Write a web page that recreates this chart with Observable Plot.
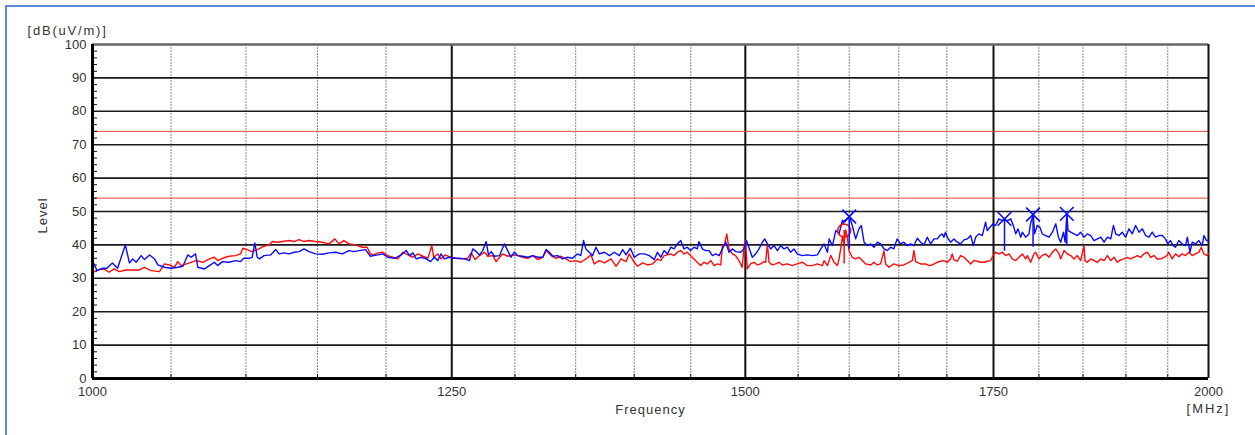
<!DOCTYPE html>
<html><head><meta charset="utf-8">
<script src="https://cdn.jsdelivr.net/npm/d3@7"></script>
<script src="https://cdn.jsdelivr.net/npm/@observablehq/plot@0.6"></script>
<style>
html,body{margin:0;padding:0;background:#fff;overflow:hidden;width:1255px;height:435px}
#chart{position:absolute;left:0;top:0}
#frame{position:absolute;left:5px;top:5px;width:1400px;height:600px;border:2px solid #5b8bd4;box-sizing:border-box;pointer-events:none}
</style></head><body><div id="chart"></div><div id="frame"></div>
<script>
// ---- data ----
const xDomain = [1000, 2000];
const yDomain = [0, 100];
const xTickLabels = [1000, 1250, 1500, 1750, 2000];
const majorFreq = [1250, 1500, 1750];
const minorFreq = [1050, 1100, 1150, 1200, 1300, 1350, 1400, 1450, 1550, 1600, 1650, 1700, 1800, 1850, 1900, 1950];
const yTickLabels = [0, 10, 20, 30, 40, 50, 60, 70, 80, 90, 100];
const yGrid = [10, 20, 30, 40, 50, 60, 70, 80, 90];
const yMinor = [2,4,6,8,12,14,16,18,22,24,26,28,32,34,36,38,42,44,46,48,52,54,56,58,62,64,66,68,72,74,76,78,82,84,86,88,92,94,96,98];
const limitLines = [74, 54];

const blueFreq = [1000,1002.8,1006,1009,1012.4,1015.7,1020.6,1023.2,1025.3,1027.5,1030.7,1032.8,1036.1,1039.3,1041.4,1045.7,1050,1054.4,1057.7,1061,1063.2,1066.1,1067.6,1072,1075.3,1078.6,1080.8,1084.1,1088.5,1092.9,1096.3,1098.5,1101.9,1104.2,1106.1,1107.7,1109.3,1112.4,1117,1120.6,1122.9,1126.4,1129.9,1133.4,1136.9,1140.4,1143.9,1148.6,1153.4,1158.2,1163,1167.9,1172.7,1176.3,1179.9,1184.8,1188.4,1190.8,
1193.9,1197.6,1201.3,1206.3,1211.4,1215.2,1217.7,1220.2,1222.7,1226.5,1230.3,1233.6,1236.6,1239.1,1241.7,1244.2,1248,1251.9,1255.8,1259.8,1263.8,1266.4,1269.1,1271.7,1274.3,1277,1278.8,1281,1283.6,1287.6,1291.5,1294.2,1296.8,1299.5,1302.2,1306.3,1310.4,1314.5,1318.6,1322.7,1325.4,1328.1,1330.9,1335,1339.1,1343.2,1347.3,1351.4,1354.3,1356.6,1358.6,1361.4,1364.3,1367.1,1370,1374.3,1378.6,1382.9,1387.1,1390,1392.9,1396.6,1400,1404.4,1408.8,1413.2,1417.6,
1420.3,1423.3,1426.2,1429.2,1432.1,1435.1,1438,1441,1443.9,1446.9,1449.8,1452.9,1455.9,1457.4,1460.5,1463.6,1466.6,1469.7,1472.7,1475.8,1478.8,1481.9,1484.9,1488,1491,1495.6,1498.7,1501.1,1503.3,1506.5,1509.7,1512.8,1516,1518.2,1520.7,1523.9,1527,1530.2,1533.3,1536.5,1539.7,1542.8,1546,1549.1,1554,1558.9,1563.8,1568.7,1572,1575.2,1578.5,1580.1,1583.4,1586.7,1589.9,1593.2,1595.8,1598,1600.5,1603,1606.4,1609.7,1612.1,1614.8,1618.1,1621.5,1624.8,1628.2,1631.5,1634.9,1638.3,1641.6,1645,1648.3,1651.7,1655.2,1658.7,1662.2,1665.6,1669.1,1672.6,1676,1679.5,1683,1686.5,
1689.9,1692.7,1695.1,1696.9,1698.6,1700.4,1703.9,1707.5,1711.1,1714.6,1718.2,1721.8,1725.3,1728.2,1730.7,1734.3,1737.9,1741.4,1743.2,1746.1,1749.6,1752.2,1755.9,1759.6,1762.1,1765.1,1768.8,1771.7,1774.3,1776.9,1779.8,1781.6,1785.3,1789,1790.8,1793.8,1795.2,1798.2,1801.1,1803.8,1807.6,1811.4,1815.2,1819,1822,1824.6,1827.7,1829.6,1831.5,1833,1836,1839.8,1843.6,1847.3,1851.2,1855,1858.9,1862.8,1866.7,1870.6,1874.4,1878.3,1882.2,1885.3,1888,1891.9,1895.7,1899.6,1903.6,1907.5,1911.5,1915.5,1919.5,1923.4,1927.4,1931.3,1935.3,1939.3,1943.3,1947.2,1950,1953.3,1956.6,1959.4,1963.5,1967.6,1971.7,1973.8,1977.1,1979.9,1984,1988.1,1992.2,1994.3,1997.5,2000];
const blueLevel = [35.3,32.3,33,33,34.6,33,40,34.6,35.8,34.8,36.8,35.6,37,35.8,34,33.3,33,33.3,33.6,37,36.3,37.3,33.3,32.8,33.8,34.8,33.8,35,34.8,35.3,35,36,36,36.2,40.6,36.3,35.8,36.8,37,38.6,37.3,37.6,37.3,37.8,38,38.8,38,37.3,37.2,37.6,37.8,37.3,38.3,38,38.3,38.6,36.6,36.8,
37,37.3,36.3,36,37,38.3,36.8,37.6,35.8,36.3,35.8,35,36.3,35.3,37.3,35.8,36.3,36,36,35.8,35.3,38.8,38,37,38.3,41,37,38,36.6,36.8,40.3,38.3,36.3,37.8,36.8,36.6,36.3,36.8,36.3,36.3,38.6,37.8,36.6,36.8,35.8,36.3,36,37.3,36.8,41.3,38.8,37.8,36.8,39.3,37.3,37.8,36.8,37.8,36.8,38.6,37,39,36.3,37.3,37.3,36.8,35.6,
37.8,36.3,38.3,37.3,39.3,38.8,40.3,41.3,38.8,39.3,38.3,39.3,38.8,41,38.8,38.3,38.3,36.8,37.3,36.8,38.8,40.8,37.8,38.8,38,37.8,38.8,41.3,39.3,36.3,37.3,38.8,40.8,41.8,40.3,38.8,39.8,38.3,39.8,38.8,39.3,37.8,38.8,37.3,36.8,37,36.8,37,38.8,40.3,37.8,41.8,39.8,44.3,43.3,47.3,47,47.8,48.3,45.8,41.8,44.8,45.8,40.8,39.8,40.3,39.3,40.8,40.3,38.8,38.3,39.3,38.8,41.8,40.3,40.8,39.8,40.3,39.8,42,40.8,40,42.3,40.3,41.8,
41.8,42.8,43.3,42.3,43.8,42.3,40.8,41.8,40.8,40.3,41.5,41.8,42.8,39.8,42.3,43.3,42.8,46.8,44.3,45.3,46.3,45.8,47.8,47.3,47.8,47.1,47.8,45.8,43.3,44.8,42.3,43.8,42.3,43.3,46.5,49.1,43.3,45.8,45.3,43.3,42.8,42.3,43.8,46.3,42.3,40.8,43.8,40.8,49.3,44.3,43.8,43.3,42.8,43.8,42.3,43.3,42.8,41.3,41.8,42.3,40.8,42.3,41.8,45.8,43.3,42.8,43.8,42.3,44.8,43.3,45.8,43.8,44.8,42.8,42.3,43.8,42.3,42.8,42.8,41.8,40.3,41.3,39.8,39.3,41.3,40.3,39.8,42.3,37.8,40.8,40.3,41.3,39.8,42.8,41.3,41.3];

const redFreq = [1000,1003.9,1007.1,1010.3,1013.5,1016.7,1021,1029.6,1032.8,1037.1,1042.5,1045.7,1048.9,1052.2,1054.4,1056.6,1062.1,1066.5,1070.9,1075.3,1078.6,1080.8,1084.1,1088.5,1092.9,1096.3,1097.8,1100.7,1104.2,1108.9,1112.4,1115.9,1118.2,1121.7,1125.2,1129.9,1133.4,1136.9,1140.4,1143.9,1148.6,1153.4,1158.2,1162.5,1165.4,1169,1172.7,1177.5,1182.3,1186,1188.4,1190.8,
1193.9,1197.6,1201.3,1205,1208.8,1212.6,1216.4,1220.2,1224,1227.8,1231.6,1234.6,1236.1,1239.1,1241.7,1244.7,1249.2,1253.2,1257.1,1262.4,1265.1,1268.3,1271.7,1275.7,1278.3,1282.3,1284.9,1287.6,1290.2,1294.2,1298.2,1302.2,1306.3,1310.4,1314.5,1318.6,1322.7,1325.4,1329.5,1333.6,1337.7,1341.8,1345.9,1350,1354.3,1358.6,1362.9,1365.7,1370,1374.3,1380,1384.3,1388.6,1392.9,1395.7,1400,1402.9,1407.3,1411.7,1416.1,
1420.3,1423.3,1426.2,1429.2,1432.1,1435.1,1438,1441,1443.9,1446.9,1449.8,1452.9,1455.9,1459,1462,1465.1,1468.2,1471.2,1474.3,1477.3,1478.8,1481,1482.8,1484.9,1488,1491,1494.1,1497.1,1498.7,1500.2,1501.8,1504.9,1508.1,1511.3,1514.4,1517.6,1519.1,1520.7,1522.3,1525.4,1528.6,1531.7,1534.9,1539.7,1544.4,1549.1,1554,1558.9,1563.8,1568.7,1573.6,1575.2,1578.5,1581.8,1585,1588.3,1589.9,1591.6,1593.2,1594.8,1596.5,1598.1,1599.7,1603,1606.4,1609.7,1613.1,1616.4,1621.5,1624.8,1628.2,1631.5,1634.9,1636.6,1640,1645,1650,1655.2,1660.4,1663.9,1665.6,1667.4,1672.6,1677.8,1681.2,1684.7,
1689.9,1693.4,1696.9,1700.4,1703.9,1705.7,1707.5,1711.1,1714.6,1718.2,1721.8,1725.3,1728.9,1732.5,1736.1,1739.6,1743.2,1746.8,1749.6,1752.2,1755.9,1759.6,1763.2,1766.9,1770.6,1774.3,1777.9,1781.6,1785.3,1787.2,1790.8,1794.5,1796.4,1800,1803.8,1807.6,1811.4,1815.2,1819,1822.7,1824.6,1828.4,1832.2,1836,1839.8,1843.6,1847.3,1851.2,1852.3,1855,1858.9,1862.8,1866.7,1870.6,1874.4,1878.3,1882.2,1886.1,1890,1893.8,1897.7,1901.6,1905.6,1909.5,1913.5,1917.5,1921.4,1925.4,1929.4,1933.3,1937.3,1941.3,1945.2,1949.2,1951.2,1955.3,1959.4,1963.5,1967.6,1971.7,1975.8,1979.9,1984,1988.1,1991,1994.3,1998.4,2000];
const redLevel = [31.8,32.6,32.8,31.8,32.8,32,32.5,32.5,33.3,32.3,32,34.3,34,33.3,35,33.8,34.6,35.3,34.8,35.8,36.3,35.3,36,36.6,36.8,37.3,39,38.6,38,38.8,39.6,40,41,40.8,41,41.3,41,41.6,41,41.3,41,40.8,40.3,41.8,40.3,41.3,40.3,40,39.3,39.3,37.3,37,
37.6,37.8,36.8,36.3,35.8,37.8,37,36.3,37.3,36.6,36,39.8,36.3,37.3,35.8,37,36.3,36,35.8,36,37.6,35.6,36.8,37.8,36.6,36.8,35,36.3,37.3,36.6,37,36.8,36.3,36,36.8,35.6,36.3,38.3,36.8,36,36.6,35.8,35,35.3,34.8,35.8,37,34.3,35.3,34.6,35.8,33.6,35.8,35,37.3,34.8,33.6,34.6,34,34.3,
35.8,35.3,36.8,37,37.3,36.8,37.8,38.3,37.3,37.8,36.8,35.8,34.8,33.8,34.8,34.3,35.3,33.8,34.3,34,39.8,40.3,43.3,38.8,37.3,36.8,35.3,33.3,39.3,41.3,32.8,34.3,34.8,34,34.3,35,34.8,40.3,34.8,34,34.3,34.8,34,34.3,33.8,34.3,34.8,33.8,33.8,34.3,33.8,35.3,33.8,36.8,34.8,33.8,35.8,39,42.3,40.5,44.5,42.3,38.3,36.3,35.8,36.3,35.3,34.3,34,34.8,34,34.3,38.2,34.3,33.3,34.3,33.8,34,34.8,35.3,38.3,35,34.3,34.3,33.8,34,
34.8,35.1,35.3,34.8,35.8,37.3,35.5,35.1,36.8,36.3,35.3,34.3,35.3,35.1,34.8,34.8,35.1,35.3,36.8,37.8,37.3,37.8,36.8,37.3,35.8,35.3,36.3,37.3,35.8,36.8,34.8,37.3,37.8,35.8,36.8,37.3,36.3,37.8,38.8,37.3,35.8,38.3,37.3,36.8,35.8,36.8,35.3,39.8,35.3,34.8,35.8,35.3,34.8,35.8,35.3,36.8,35.3,36.3,34.8,35.5,35.8,36.3,35.8,36.3,36.8,36.3,37.3,37.8,36.3,36.8,35.8,35.8,36.3,36.8,37.8,35.8,37.3,36.5,37.3,36.8,37.8,36.8,37.3,37.8,39.3,37.3,36.8,37.3];

const bluePeakFreq = [1600, 1762, 1793.5, 1831.5];
const bluePeakLevel = [48.5, 47.8, 49.1, 49.3];
const bluePeakBase = [38.8, 38.1, 39.3, 39.8];
const redPeakFreq = [1595];
const redPeakLevel = [44.3];
const redPeakBase = [34.3];

const yUnit = "[dB(uV/m)]";
const yLabel = "Level";
const xLabel = "Frequency";
const xUnit = "[MHz]";

// ---- build ----
const blue = blueFreq.map((f, i) => ({f, v: blueLevel[i]}));
const red = redFreq.map((f, i) => ({f, v: redLevel[i]}));
const bluePeaks = bluePeakFreq.map((f, i) => ({f, v: bluePeakLevel[i], b: bluePeakBase[i]}));
const redPeaks = redPeakFreq.map((f, i) => ({f, v: redPeakLevel[i], b: redPeakBase[i]}));

const W = 1255, H = 435, mL = 92, mR = 47, mT = 44, mB = 57;
const fw = W - mL - mR, fh = H - mT - mB;
const BLUE = "#0a0aff", RED = "#ff0a0a";
const font = "'Liberation Sans', Arial, sans-serif";

const chart = Plot.plot({
  width: W, height: H,
  marginLeft: mL, marginRight: mR, marginTop: mT, marginBottom: mB,
  x: {type: "log", domain: xDomain},
  y: {domain: yDomain},
  style: {fontFamily: font, fontSize: "13px", color: "#333", background: "transparent", overflow: "visible"},
  marks: [
    Plot.ruleX(minorFreq, {stroke: "#8a8a8a", strokeWidth: 1, strokeDasharray: "2,1"}),
    Plot.ruleY(yGrid, {stroke: "#1a1a1a", strokeWidth: 1.6}),
    Plot.ruleX(majorFreq, {stroke: "#111", strokeWidth: 2}),
    Plot.ruleY(limitLines, {stroke: "#e8403c", strokeWidth: 1}),
    Plot.ruleY([yDomain[1]], {stroke: "#666", strokeWidth: 2.5}),
    Plot.ruleX([xDomain[1]], {stroke: "#111", strokeWidth: 2}),
    Plot.tickY(yMinor, {y: d => d, stroke: "#111", strokeWidth: 1, insetRight: fw - 5}),
    Plot.tickX(minorFreq, {x: d => d, stroke: "#111", strokeWidth: 1, insetTop: fh - 4}),
    Plot.line(red, {x: "f", y: "v", stroke: RED, strokeWidth: 1.4}),
    Plot.line(blue, {x: "f", y: "v", stroke: BLUE, strokeWidth: 1.4}),
    Plot.ruleX(redPeaks, {x: "f", y1: "b", y2: "v", stroke: RED, strokeWidth: 1.5}),
    Plot.dot(redPeaks, {x: "f", y: "v", r: 6.5, stroke: RED, strokeWidth: 1.5, fill: "none"}),
    Plot.ruleX(bluePeaks, {x: "f", y1: "b", y2: "v", stroke: BLUE, strokeWidth: 1.5}),
    Plot.dot(bluePeaks, {x: "f", y: "v", symbol: "times", r: 6.3, stroke: BLUE, strokeWidth: 1.6}),
    Plot.ruleX([xDomain[0]], {stroke: "#000", strokeWidth: 3}),
    Plot.ruleY([yDomain[0]], {stroke: "#000", strokeWidth: 3}),
    Plot.axisY({ticks: yTickLabels, tickSize: 0, tickPadding: 6, label: null, fill: "#333"}),
    Plot.axisX({ticks: xTickLabels, tickSize: 0, tickPadding: 8, tickFormat: d => String(d), label: null, fill: "#333"}),
    Plot.text([yUnit], {frameAnchor: "top-left", dx: -65, dy: -19, textAnchor: "start", fill: "#333", fontSize: 13}),
    Plot.text([yLabel], {frameAnchor: "left", dx: -50, dy: 4, rotate: -90, textAnchor: "middle", fill: "#333", fontSize: 13}),
    Plot.text([xLabel], {frameAnchor: "bottom", dx: 0, dy: 35, textAnchor: "middle", fill: "#333", fontSize: 13}),
    Plot.text([xUnit], {frameAnchor: "bottom-right", dx: 0, dy: 34, textAnchor: "middle", fill: "#333", fontSize: 13})
  ]
});
document.getElementById("chart").appendChild(chart);
// letter spacing for the wide-set labels
const spacing = {[yUnit]: "1.8px", [yLabel]: "1px", [xLabel]: "1px", [xUnit]: "2px"};
chart.querySelectorAll("text").forEach(t => {
  const s = spacing[t.textContent];
  if (s) t.style.letterSpacing = s;
});
</script>
</body></html>
